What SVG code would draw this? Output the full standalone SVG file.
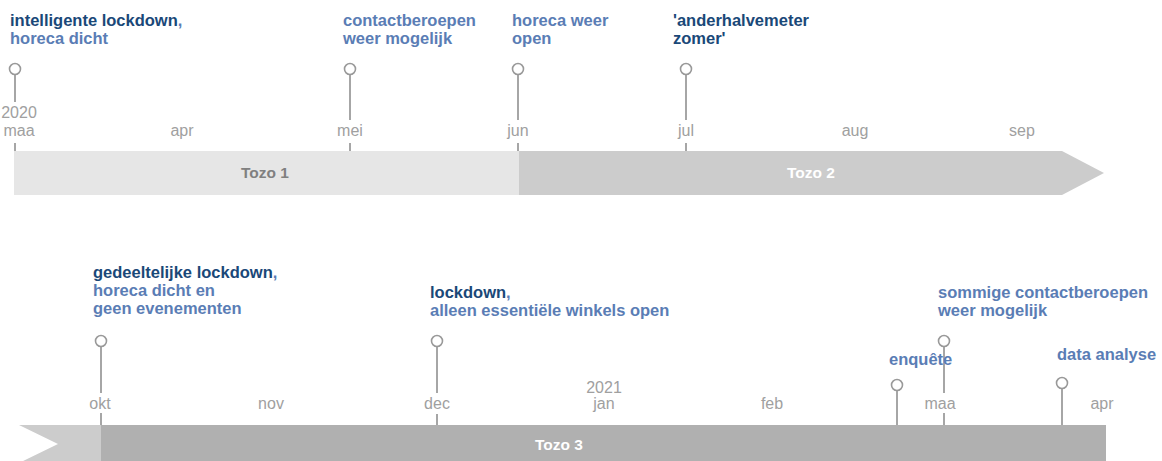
<svg xmlns="http://www.w3.org/2000/svg" width="1162" height="461" viewBox="0 0 1162 461">
<style>
.ev{font-family:"Liberation Sans",Arial,sans-serif;font-weight:bold;font-size:16.5px;fill:#5a7db5}
.dk{fill:#1a4878}
.mo{font-family:"Liberation Sans",Arial,sans-serif;font-size:16px;fill:#a0a0a0;text-anchor:middle}
.bar{font-family:"Liberation Sans",Arial,sans-serif;font-weight:bold;font-size:15.5px;text-anchor:middle}
.pin{fill:#fff;stroke:#999;stroke-width:1.6}
.stem{stroke:#a6a6a6;stroke-width:2;fill:none}
</style>
<rect width="1162" height="461" fill="#fff"/>
<g id="bars">
<rect x="14" y="151" width="505" height="44" fill="#e6e6e6"/>
<polygon points="519,151 1062,151 1104,173 1062,195 519,195" fill="#cccccc"/>
<text class="bar" x="265" y="178" fill="#808080">Tozo 1</text>
<text class="bar" x="811" y="178" fill="#ffffff">Tozo 2</text>
<polygon points="19,425 101,425 101,463 19,463 58,444" fill="#cccccc"/>
<rect x="101" y="425" width="1005" height="40" fill="#b0b0b0"/>
<text class="bar" x="559" y="450" fill="#ffffff">Tozo 3</text>
</g>
<g id="months">
<text class="mo" x="19" y="118">2020</text>
<text class="mo" x="19" y="136">maa</text>
<text class="mo" x="182" y="136">apr</text>
<text class="mo" x="350" y="136">mei</text>
<text class="mo" x="518" y="136">jun</text>
<text class="mo" x="686" y="136">jul</text>
<text class="mo" x="855" y="136">aug</text>
<text class="mo" x="1022" y="136">sep</text>
<text class="mo" x="100" y="409">okt</text>
<text class="mo" x="271" y="409">nov</text>
<text class="mo" x="437" y="409">dec</text>
<text class="mo" x="604" y="393">2021</text>
<text class="mo" x="604" y="409">jan</text>
<text class="mo" x="772" y="409">feb</text>
<text class="mo" x="940" y="409">maa</text>
<text class="mo" x="1102" y="409">apr</text>
</g>
<g id="connectors">
<path class="stem" d="M15,74V102 M15,143V151 M350,74V120 M350,143V151 M518,74V120 M518,143V151 M686,74V120 M686,143V151"/>
<path class="stem" d="M101,346V393 M101,413V425 M437,346V393 M437,414V425 M944,346V393 M944,413V425 M897,390V425 M1062,388V425"/>
</g>
<g id="e1"><circle class="pin" cx="15" cy="69" r="5.5"/>
<text class="ev" x="10" y="26"><tspan class="dk">intelligente lockdown</tspan>,</text>
<text class="ev" x="10" y="44">horeca dicht</text></g>
<g id="e2"><circle class="pin" cx="350" cy="69" r="5.5"/>
<text class="ev" x="343" y="26">contactberoepen</text>
<text class="ev" x="343" y="44">weer mogelijk</text></g>
<g id="e3"><circle class="pin" cx="518" cy="69" r="5.5"/>
<text class="ev" x="512" y="26">horeca weer</text>
<text class="ev" x="512" y="44">open</text></g>
<g id="e4"><circle class="pin" cx="686" cy="69" r="5.5"/>
<text class="ev dk" x="673" y="26">'anderhalvemeter</text>
<text class="ev dk" x="673" y="44">zomer'</text></g>
<g id="e5"><circle class="pin" cx="101" cy="341" r="5.5"/>
<text class="ev" x="93" y="278"><tspan class="dk">gedeeltelijke lockdown</tspan>,</text>
<text class="ev" x="93" y="296">horeca dicht en</text>
<text class="ev" x="93" y="314">geen evenementen</text></g>
<g id="e6"><circle class="pin" cx="437" cy="341" r="5.5"/>
<text class="ev" x="430" y="298"><tspan class="dk">lockdown</tspan>,</text>
<text class="ev" x="430" y="316">alleen essentiële winkels open</text></g>
<g id="e7"><circle class="pin" cx="897" cy="385" r="5.5"/>
<text class="ev" x="889" y="365">enquête</text></g>
<g id="e8"><circle class="pin" cx="944" cy="341" r="5.5"/>
<text class="ev" x="938" y="298">sommige contactberoepen</text>
<text class="ev" x="938" y="316">weer mogelijk</text></g>
<g id="e9"><circle class="pin" cx="1062" cy="383" r="5.5"/>
<text class="ev" x="1057" y="360">data analyse</text></g>
</svg>
